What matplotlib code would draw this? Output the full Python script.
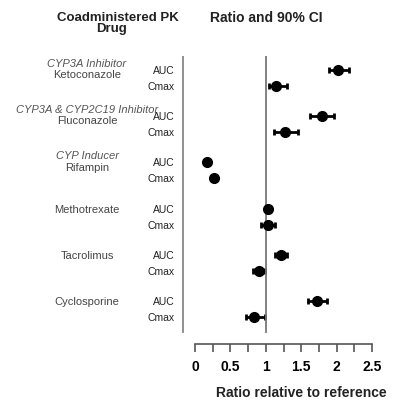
import matplotlib
matplotlib.use("Agg")
import matplotlib.pyplot as plt
import matplotlib.transforms as mtransforms
import numpy as np

plt.rcParams['font.family'] = ['Liberation Sans', 'DejaVu Sans']

drugs = ["Ketoconazole", "Fluconazole", "Rifampin", "Methotrexate", "Tacrolimus", "Cyclosporine"]
categories = ["CYP3A Inhibitor", "CYP3A & CYP2C19 Inhibitor", "CYP Inducer", "", "", ""]
pk_params = ["AUC", "Cmax"]

auc_ratio = [2.02, 1.79, 0.17, 1.03, 1.21, 1.73]
auc_lo = [1.89, 1.62, 0.15, 1.00, 1.13, 1.60]
auc_hi = [2.17, 1.97, 0.19, 1.06, 1.30, 1.87]
cmax_ratio = [1.15, 1.27, 0.27, 1.03, 0.90, 0.83]
cmax_lo = [1.04, 1.11, 0.25, 0.93, 0.82, 0.72]
cmax_hi = [1.30, 1.45, 0.29, 1.13, 0.99, 0.99]

xticks = [0, 0.5, 1, 1.5, 2, 2.5]
xtick_labels = ["0", "0.5", "1", "1.5", "2", "2.5"]

W, H = 400, 406
fig = plt.figure(figsize=(W / 100, H / 100), dpi=100)

# axes placed in pixel units of the reference
ax_left, ax_right, ax_top, ax_bot = 177.3, 379.1, 57, 345
ax = fig.add_axes([ax_left / W, 1 - ax_bot / H, (ax_right - ax_left) / W, (ax_bot - ax_top) / H])

pair_off = 0.346
group_y = np.arange(len(drugs))
auc_y = group_y
cmax_y = group_y + pair_off

ax.set_xlim(-0.25, 2.6)
ax.set_ylim(5.93, -0.303)

auc_ratio = np.array(auc_ratio)
cmax_ratio = np.array(cmax_ratio)
ax.errorbar(auc_ratio, auc_y,
            xerr=[auc_ratio - np.array(auc_lo), np.array(auc_hi) - auc_ratio],
            fmt='o', color='black', ms=7, elinewidth=2, capsize=2.5, capthick=2)
ax.errorbar(cmax_ratio, cmax_y,
            xerr=[cmax_ratio - np.array(cmax_lo), np.array(cmax_hi) - cmax_ratio],
            fmt='o', color='black', ms=7, elinewidth=2, capsize=2.5, capthick=2)

# reference line and separator line
line_bottom = 12 / 288
ax.axvline(1, ymin=line_bottom, ymax=1, color='#777777', lw=1.3)
ax.axvline(-0.17, ymin=line_bottom, ymax=1, color='#888888', lw=1.3)

for side in ['left', 'right', 'top']:
    ax.spines[side].set_visible(False)
ax.spines['bottom'].set_bounds(0, 2.5)
ax.spines['bottom'].set_color('#555555')
ax.spines['bottom'].set_linewidth(1.2)
ax.set_yticks([])
ax.set_xticks(xticks)
ax.set_xticklabels(xtick_labels, fontsize=10, fontweight='bold')
ax.set_xticks(np.arange(0.25, 2.5, 0.5), minor=True)
ax.tick_params(axis='x', which='both', length=6, width=1.2, color='#555555', pad=5)

# left-side labels
trans = mtransforms.blended_transform_factory(fig.transFigure, ax.transData)
name_x = 87 / W
for g, (name, cat) in enumerate(zip(drugs, categories)):
    if cat:
        ax.text(name_x, g - 0.15, cat, transform=trans, ha='center', va='center',
                fontsize=8, style='italic', color='#555555')
        ax.text(name_x, g + 0.09, name, transform=trans, ha='center', va='center',
                fontsize=8, color='#444444')
    else:
        ax.text(name_x, g, name, transform=trans, ha='center', va='center',
                fontsize=8, color='#444444')
    for y, p in zip([auc_y[g], cmax_y[g]], pk_params):
        ax.text(175 / W, y, p, transform=trans, ha='right', va='center',
                fontsize=7.5, color='#222222')

# headers
fig.text(118 / W, 1 - 18 / H, "Coadministered PK", ha='center', va='center',
         fontsize=9.5, fontweight='bold', color='#222222')
fig.text(111 / W, 1 - 29 / H, "Drug", ha='center', va='center',
         fontsize=9.5, fontweight='bold', color='#222222')
fig.text(266 / W, 1 - 18 / H, "Ratio and 90% CI", ha='center', va='center',
         fontsize=10, fontweight='bold', color='#222222')
fig.text(301 / W, 1 - 393 / H, "Ratio relative to reference", ha='center', va='center',
         fontsize=10, fontweight='bold', color='#222222')

fig.savefig("out.png", dpi=100)
